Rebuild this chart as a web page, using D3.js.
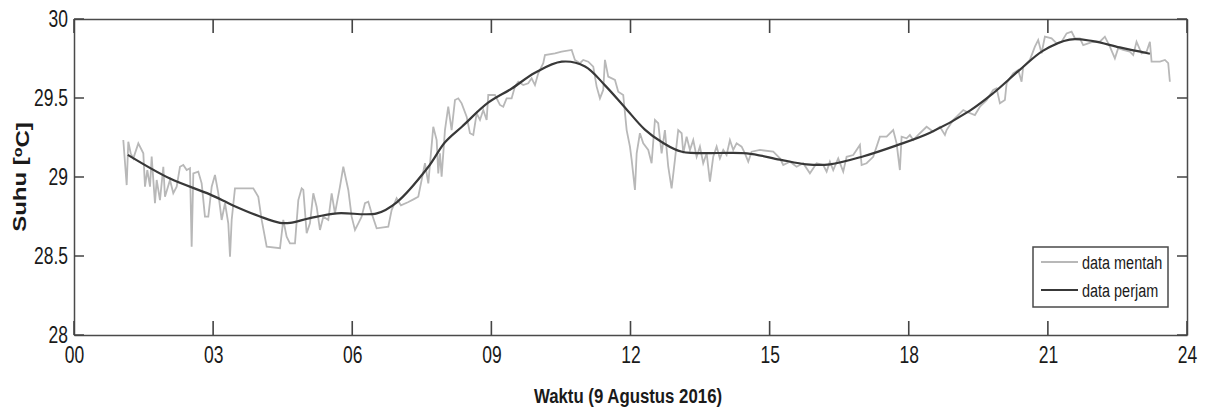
<!DOCTYPE html>
<html>
<head>
<meta charset="utf-8">
<title>Suhu 9 Agustus 2016</title>
<script src="https://cdnjs.cloudflare.com/ajax/libs/d3/7.8.5/d3.min.js"></script>
<style>
    body { margin: 0; background: #fff; }
    text { font-family: "Liberation Sans", Arial, sans-serif; fill: #1a1a1a; }
    .axis path { stroke: #4a4a4a; stroke-width: 1.5px; }
    .raw { fill: none; stroke: #b8b8b8; stroke-width: 1.8px; }
    .hourly { fill: none; stroke: #383838; stroke-width: 2.2px; }
</style>
</head>
<body>
<svg id="chart" width="1205" height="412"></svg>
<script>
// axis ticks
const xTicks = [0, 3, 6, 9, 12, 15, 18, 21, 24];
const xTickLabels = ["00", "03", "06", "09", "12", "15", "18", "21", "24"];
const yTicks = [28, 28.5, 29, 29.5, 30];
const yTickLabels = ["28", "28.5", "29", "29.5", "30"];

const legendLabels = ["data mentah", "data perjam"];

// raw measurements [hour, temperature]
const rawData = [
    [1.063, 29.234], [1.136, 28.949], [1.171, 29.223], [1.222, 29.15], [1.279, 29.118],
    [1.387, 29.213], [1.495, 29.15], [1.531, 28.939], [1.581, 29.044], [1.639, 28.939],
    [1.675, 29.129], [1.746, 28.834], [1.783, 28.981], [1.854, 28.854], [1.926, 29.065],
    [1.962, 28.875], [2.07, 28.981], [2.141, 28.897], [2.214, 28.939], [2.285, 29.065],
    [2.357, 29.076], [2.43, 29.044], [2.501, 29.055], [2.537, 28.559], [2.573, 29.023],
    [2.68, 29.034], [2.753, 28.96], [2.824, 28.749], [2.896, 28.749], [2.969, 28.939],
    [3.04, 29.013], [3.112, 28.897], [3.184, 28.728], [3.256, 28.834], [3.327, 28.707],
    [3.364, 28.496], [3.4, 28.728], [3.471, 28.928], [3.866, 28.928], [3.974, 28.875],
    [4.047, 28.728], [4.155, 28.559], [4.442, 28.549], [4.513, 28.728], [4.585, 28.622],
    [4.657, 28.58], [4.765, 28.58], [4.837, 28.854], [4.909, 28.928], [4.945, 28.918],
    [5.017, 28.644], [5.088, 28.707], [5.16, 28.897], [5.232, 28.812], [5.304, 28.665],
    [5.376, 28.749], [5.484, 28.728], [5.556, 28.897], [5.627, 28.77], [5.735, 28.939],
    [5.807, 29.065], [5.915, 28.918], [5.987, 28.749], [6.059, 28.665], [6.131, 28.707],
    [6.202, 28.749], [6.274, 28.834], [6.346, 28.844], [6.418, 28.77], [6.526, 28.675],
    [6.777, 28.686], [6.849, 28.791], [6.957, 28.865], [7.05, 28.82], [7.2, 28.84],
    [7.33, 28.86], [7.424, 28.875], [7.568, 29.087], [7.64, 28.96], [7.747, 29.318],
    [7.82, 29.234], [7.855, 29.023], [7.891, 29.15], [7.927, 29.002], [7.999, 29.297],
    [8.07, 29.445], [8.143, 29.297], [8.215, 29.487], [8.286, 29.498], [8.359, 29.466],
    [8.467, 29.382], [8.538, 29.277], [8.61, 29.266], [8.683, 29.403], [8.754, 29.361],
    [8.825, 29.424], [8.898, 29.361], [8.933, 29.519], [9.077, 29.519], [9.185, 29.456],
    [9.256, 29.445], [9.329, 29.498], [9.437, 29.498], [9.508, 29.572], [9.58, 29.603],
    [9.687, 29.582], [9.795, 29.593], [9.868, 29.625], [9.94, 29.582], [10.011, 29.656],
    [10.119, 29.72], [10.155, 29.772], [10.371, 29.783], [10.515, 29.793], [10.731, 29.804],
    [10.802, 29.741], [10.91, 29.72], [10.981, 29.741], [11.089, 29.73], [11.197, 29.698],
    [11.27, 29.572], [11.341, 29.498], [11.412, 29.551], [11.449, 29.741], [11.52, 29.635],
    [11.665, 29.614], [11.736, 29.54], [11.843, 29.519], [11.917, 29.297], [11.988, 29.192],
    [12.025, 29.108], [12.096, 28.918], [12.133, 29.15], [12.203, 29.277], [12.275, 29.213],
    [12.383, 29.171], [12.455, 29.087], [12.527, 29.361], [12.598, 29.34], [12.671, 29.15],
    [12.742, 29.297], [12.814, 29.065], [12.886, 28.928], [12.958, 29.108], [13.029, 29.297],
    [13.103, 29.277], [13.138, 29.15], [13.21, 29.255], [13.282, 29.171], [13.353, 29.234],
    [13.426, 29.128], [13.497, 29.192], [13.568, 29.087], [13.642, 29.15], [13.713, 28.97],
    [13.784, 29.128], [13.857, 29.192], [13.928, 29.118], [14.0, 29.171], [14.072, 29.139],
    [14.144, 29.234], [14.215, 29.171], [14.288, 29.213], [14.396, 29.192], [14.467, 29.15],
    [14.539, 29.097], [14.612, 29.16], [14.791, 29.171], [15.078, 29.16], [15.222, 29.118],
    [15.293, 29.076], [15.438, 29.097], [15.582, 29.065], [15.724, 29.087], [15.869, 29.023],
    [16.013, 29.087], [16.156, 29.076], [16.229, 29.034], [16.3, 29.097], [16.371, 29.044],
    [16.479, 29.118], [16.587, 29.034], [16.66, 29.128], [16.803, 29.139], [16.947, 29.203],
    [16.983, 29.076], [17.091, 29.087], [17.234, 29.128], [17.378, 29.255], [17.523, 29.255],
    [17.665, 29.297], [17.738, 29.213], [17.809, 29.044], [17.846, 29.255], [17.954, 29.245],
    [18.025, 29.266], [18.096, 29.234], [18.24, 29.277], [18.385, 29.318], [18.527, 29.287],
    [18.672, 29.318], [18.78, 29.266], [18.816, 29.297], [18.958, 29.361], [19.175, 29.424],
    [19.247, 29.413], [19.426, 29.392], [19.534, 29.445], [19.679, 29.487], [19.821, 29.551],
    [19.894, 29.561], [19.966, 29.466], [20.073, 29.487], [20.11, 29.593], [20.252, 29.656],
    [20.36, 29.677], [20.433, 29.603], [20.468, 29.698], [20.612, 29.741], [20.72, 29.825],
    [20.791, 29.867], [20.864, 29.783], [20.936, 29.888], [21.08, 29.878], [21.188, 29.846],
    [21.296, 29.856], [21.404, 29.909], [21.511, 29.92], [21.583, 29.878], [21.69, 29.878],
    [21.762, 29.835], [21.87, 29.846], [21.977, 29.856], [22.121, 29.856], [22.229, 29.888],
    [22.337, 29.825], [22.445, 29.751], [22.516, 29.815], [22.624, 29.804], [22.768, 29.793],
    [22.84, 29.772], [22.912, 29.856], [23.02, 29.783], [23.128, 29.793], [23.2, 29.856],
    [23.236, 29.73], [23.416, 29.73], [23.524, 29.741], [23.595, 29.72], [23.631, 29.603]
];

// hourly smoothed series [hour, temperature]
const hourlyData = [
    [1.16, 29.14], [2.07, 28.99], [2.93, 28.89], [3.43, 28.82], [4.01, 28.75],
    [4.44, 28.71], [4.66, 28.71], [5.09, 28.74], [5.67, 28.77], [6.53, 28.77],
    [6.96, 28.84], [7.63, 29.06], [8.0, 29.22], [8.37, 29.32], [8.93, 29.47],
    [9.44, 29.56], [9.94, 29.66], [10.52, 29.73], [11.02, 29.70], [11.45, 29.58],
    [11.88, 29.44], [12.31, 29.30], [12.68, 29.22], [13.11, 29.16], [14.51, 29.15],
    [15.22, 29.11], [15.80, 29.08], [16.3, 29.08], [17.01, 29.13], [17.74, 29.20],
    [18.46, 29.28], [19.32, 29.42], [19.82, 29.53], [20.4, 29.68], [20.9, 29.80],
    [21.47, 29.87], [21.97, 29.86], [22.55, 29.82], [23.2, 29.78]
];

const svg = d3.select('#chart');
const plotLeft = 74, plotRight = 1187, plotTop = 19, plotBottom = 335;
const squeeze = 0.76;   // the source glyphs are horizontally narrow

const x = d3.scaleLinear().domain([0, 24]).range([plotLeft, plotRight]);
const y = d3.scaleLinear().domain([28, 30]).range([plotBottom, plotTop]);

// data lines
const line = d3.line().x(d => x(d[0])).y(d => y(d[1]));
svg.append('path').datum(rawData).attr('class', 'raw').attr('d', line);
svg.append('path').datum(hourlyData).attr('class', 'hourly')
    .attr('d', line.curve(d3.curveCatmullRom.alpha(0.5)));

// axes: box outline with labels from d3 axes
const xAxis = svg.append('g').attr('class', 'axis')
    .attr('transform', `translate(0,${plotBottom})`)
    .call(d3.axisBottom(x).tickValues(xTicks).tickFormat((d, i) => xTickLabels[i])
        .tickSize(0).tickPadding(12));
svg.append('g').attr('class', 'axis')
    .attr('transform', `translate(0,${plotTop})`)
    .call(d3.axisTop(x).tickValues([]).tickSize(0));
const yAxis = svg.append('g').attr('class', 'axis')
    .attr('transform', `translate(${plotLeft},0)`)
    .call(d3.axisLeft(y).tickValues(yTicks).tickFormat((d, i) => yTickLabels[i])
        .tickSize(0).tickPadding(6));
svg.append('g').attr('class', 'axis')
    .attr('transform', `translate(${plotRight},0)`)
    .call(d3.axisRight(y).tickValues([]).tickSize(0));

svg.selectAll('.axis').attr('font-family', null).attr('font-size', null);
svg.selectAll('.axis text').style('font-size', '23px').attr('fill', '#1a1a1a');
xAxis.selectAll('text').attr('transform', `scale(${squeeze},1)`);
yAxis.selectAll('text').attr('x', -6 / squeeze).attr('transform', `scale(${squeeze},1)`);

// inward tick marks on all four sides, one path
const tickPath = d3.path();
xTicks.forEach(t => {
    tickPath.moveTo(x(t), plotBottom); tickPath.lineTo(x(t), plotBottom - 14);
    tickPath.moveTo(x(t), plotTop); tickPath.lineTo(x(t), plotTop + 14);
});
yTicks.forEach(t => {
    tickPath.moveTo(plotLeft, y(t)); tickPath.lineTo(plotLeft + 10, y(t));
    tickPath.moveTo(plotRight, y(t)); tickPath.lineTo(plotRight - 10, y(t));
});
svg.append('path').attr('d', tickPath.toString())
    .attr('fill', 'none').attr('stroke', '#444').attr('stroke-width', 1.6);

// axis titles
svg.append('g')
    .attr('transform', `translate(628,403) scale(0.8,1)`)
    .append('text')
    .attr('text-anchor', 'middle')
    .style('font-size', '21px').style('font-weight', 'bold')
    .text('Waktu (9 Agustus 2016)');

const yTitle = svg.append('g')
    .attr('transform', `translate(20,${(plotTop + plotBottom) / 2}) rotate(-90) scale(1,${squeeze})`)
    .append('text')
    .attr('text-anchor', 'middle')
    .attr('dy', '0.35em')
    .style('font-size', '24px').style('font-weight', 'bold');
yTitle.append('tspan').text('Suhu [');
yTitle.append('tspan').attr('dy', '-0.4em').style('font-size', '16px').text('o');
yTitle.append('tspan').attr('dy', '0.4em').text('C]');

// legend
const legend = svg.append('g').attr('transform', 'translate(1033,247)');
legend.append('rect').attr('width', 135).attr('height', 60)
    .attr('fill', '#fff').attr('stroke', '#4a4a4a').attr('stroke-width', 1.5);
const rows = legend.selectAll('.row').data(legendLabels).join('g')
    .attr('transform', (d, i) => `translate(0,${15 + i * 28})`);
rows.append('line').attr('x1', 8).attr('x2', 45)
    .attr('class', (d, i) => i === 0 ? 'raw' : 'hourly');
rows.append('g').attr('transform', `translate(49,0) scale(${squeeze},1)`)
    .append('text').attr('dy', '0.35em').style('font-size', '19px').text(d => d);
</script>
</body>
</html>
